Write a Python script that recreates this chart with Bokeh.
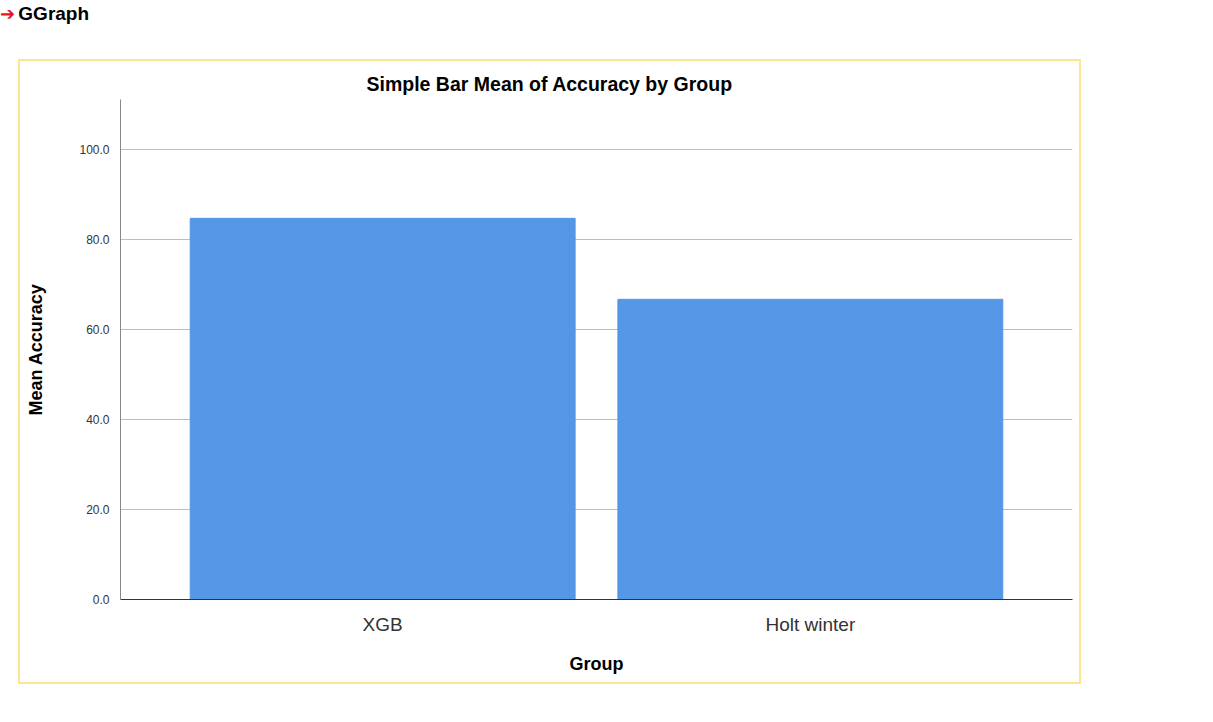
from bokeh.plotting import figure
from bokeh.models import Div, FixedTicker, NumeralTickFormatter, Range1d
from bokeh.layouts import column
from bokeh.embed import file_html
from bokeh.resources import INLINE

groups = ["XGB", "Holt winter"]
accuracy = [84.7, 66.7]
y_ticks = [0, 20, 40, 60, 80, 100]

header = Div(text='<span style="color:#e8141c;font-size:18px;">&#10132;</span>'
                  '&nbsp;<b style="font-family:Arial,Liberation Sans;font-size:19px;">GGraph</b>',
             width=300, height=40, styles={"margin-top": "0px", "margin-left": "0px"})

p = figure(x_range=groups, width=1063, height=625, output_backend="svg",
           toolbar_location=None, title="Simple Bar Mean of Accuracy by Group",
           min_border_left=100, min_border_right=11, min_border_top=38,
           min_border_bottom=87,
           styles={"border": "2px solid #fde68f", "margin-left": "18px", "margin-top": "14px"})
p.x_range.range_padding_units = "absolute"
p.x_range.range_padding = 0.113
p.y_range = Range1d(0, 111.1)
p.vbar(x=groups, top=accuracy, width=0.9, color="#5596e6")

p.title.align = "left"
p.title.offset = 246
p.title.text_font = "Liberation Sans"
p.title.text_font_size = "19.5px"
p.title.text_color = "#000000"

p.outline_line_color = None
p.background_fill_color = "white"
p.xgrid.grid_line_color = None
p.ygrid.grid_line_color = "#bdbdbd"
p.ygrid.ticker = FixedTicker(ticks=y_ticks)

p.yaxis.ticker = FixedTicker(ticks=y_ticks)
p.yaxis.formatter = NumeralTickFormatter(format="0.0")
p.yaxis.axis_label = "Mean Accuracy"
p.xaxis.axis_label = "Group"
for ax in (p.xaxis, p.yaxis):
    ax.major_tick_line_color = None
    ax.minor_tick_line_color = None
    ax.axis_label_text_font = "Liberation Sans"
    ax.axis_label_text_font_style = "bold"
    ax.axis_label_text_font_size = "18px"
    ax.axis_label_text_color = "#000000"
    ax.major_label_text_font = "Liberation Sans"
    ax.major_label_text_color = "#333333"
p.yaxis.axis_line_color = "#888888"
p.xaxis.axis_line_color = "#333333"
p.yaxis.major_label_text_font_size = "12px"
p.xaxis.major_label_text_font_size = "19px"
p.xaxis.major_label_standoff = 8
p.xaxis.axis_label_standoff = 16
p.yaxis.axis_label_standoff = 30

layout = column(header, p)
open("out.html", "w").write(file_html(layout, INLINE))
